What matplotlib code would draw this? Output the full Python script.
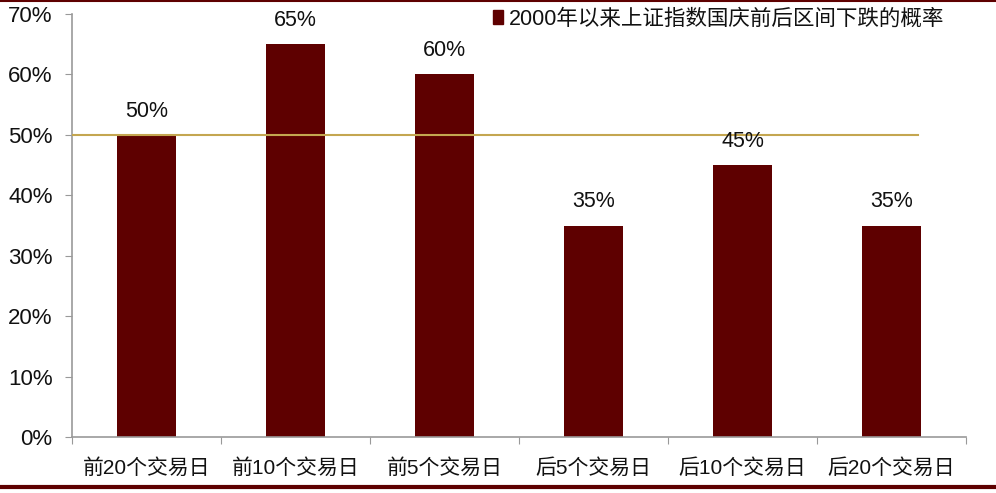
import matplotlib
matplotlib.use("Agg")
import matplotlib.pyplot as plt
from matplotlib.lines import Line2D
from matplotlib.patches import Patch

categories = ["前20个交易日", "前10个交易日", "前5个交易日", "后5个交易日", "后10个交易日", "后20个交易日"]
values = [50, 65, 60, 35, 45, 35]
ref_value = 50
series_name = "2000年以来上证指数国庆前后区间下跌的概率"

plt.rcParams['font.family'] = ['Liberation Sans', 'Noto Sans CJK SC']

fig = plt.figure(figsize=(9.96, 4.93), dpi=100)
ax = fig.add_axes([72/996, 1-437/493, (966-72)/996, (437-14)/493])

bar_color = "#5E0000"
x = list(range(len(categories)))
ax.bar(x, values, width=0.4, color=bar_color, zorder=2)
ax.axhline(ref_value, xmin=0, xmax=0.946, color="#C4A650", lw=1.5, zorder=3)

for xi, v in zip(x, values):
    ax.text(xi, v + 2.2, f"{v}%", ha="center", va="bottom", fontsize=15.5, color="#111111")

ax.set_xlim(-0.5, len(categories) - 0.5)
ax.set_ylim(0, 70)
ax.set_yticks(range(0, 71, 10))
ax.set_yticklabels([f"{t}%" for t in range(0, 71, 10)], fontsize=16, color="#111111")
ax.set_xticks([i - 0.5 for i in range(len(categories) + 1)])
ax.set_xticklabels([])
ax.set_xticks(x, minor=True)
ax.set_xticklabels(categories, minor=True, fontsize=15, color="#111111")
ax.tick_params(axis="x", which="minor", length=0, pad=15)
ax.tick_params(axis="x", which="major", length=5, color="#999999", direction="out")
ax.tick_params(axis="y", length=5, color="#999999", direction="out", pad=9)
for s in ["top", "right"]:
    ax.spines[s].set_visible(False)
for s in ["left", "bottom"]:
    ax.spines[s].set_color("#999999")
    ax.spines[s].set_linewidth(1.2)

handle = Patch(facecolor=bar_color, edgecolor=bar_color)
leg = fig.legend([handle], [series_name], loc="center left", bbox_to_anchor=(474/996, 1-19/493),
                 frameon=False, fontsize=15.5, handlelength=0.45, handleheight=0.6, handletextpad=0.25)
for t in leg.get_texts():
    t.set_color("#111111")

fig.add_artist(Line2D([0, 1], [1 - 1/493, 1 - 1/493], color="#5E0000", lw=1.5, transform=fig.transFigure))
fig.add_artist(Line2D([0, 1], [1 - 487/493, 1 - 487/493], color="#5E0000", lw=3, transform=fig.transFigure))

fig.savefig("out.png", dpi=100)
